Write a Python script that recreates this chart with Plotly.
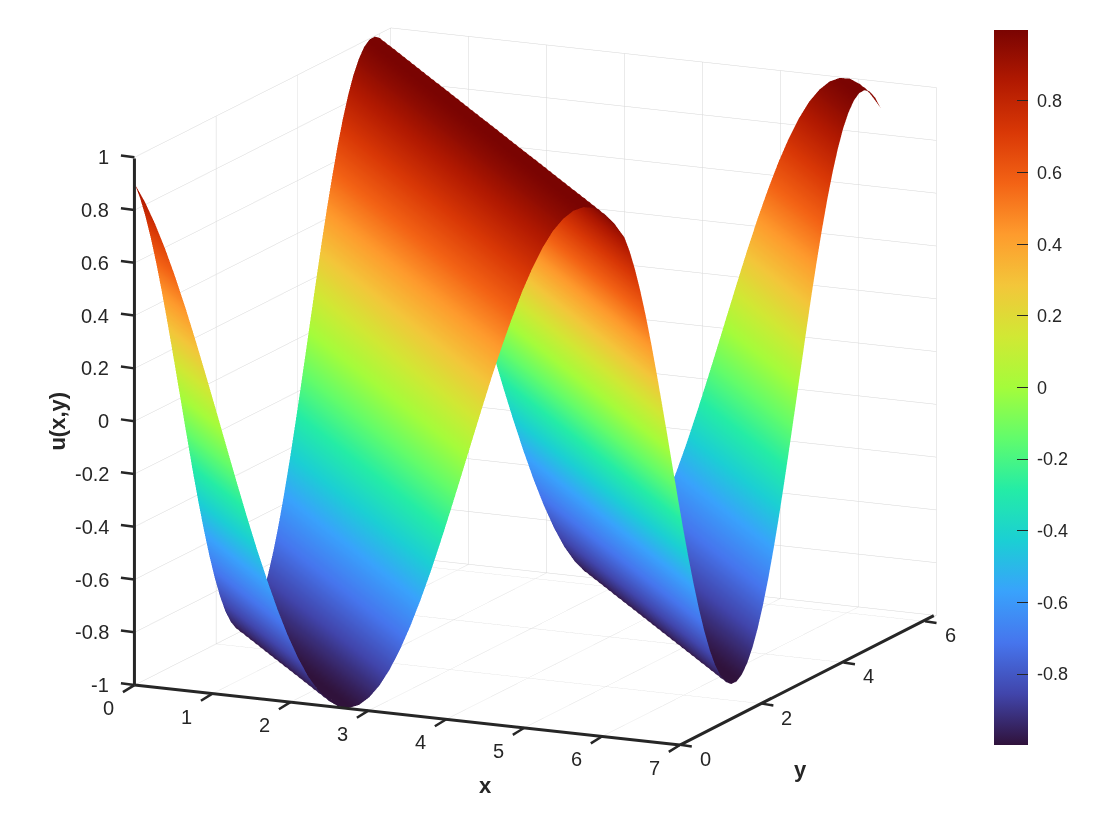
import plotly.graph_objects as go

x_vals = [0, 0.131, 0.262, 0.393, 0.524, 0.654, 0.785, 0.916, 1.047, 1.178, 1.309, 1.44, 1.571, 1.702, 1.833, 1.963, 2.094,
          2.225, 2.356, 2.487, 2.618, 2.749, 2.88, 3.011, 3.142, 3.272, 3.403, 3.534, 3.665, 3.796, 3.927, 4.058, 4.189,
          4.32, 4.451, 4.581, 4.712, 4.843, 4.974, 5.105, 5.236, 5.367, 5.498, 5.629, 5.76, 5.89, 6.021, 6.152, 6.283]
y_vals = list(x_vals)
# u read along the constant-(x+y) ridges of the surface, one entry per grid diagonal
ridge_u = [0.900, 0.836, 0.757, 0.665, 0.562, 0.450, 0.329, 0.203, 0.074, -0.057, -0.187, -0.314, -0.435, -0.548, -0.653, -0.746,
           -0.827, -0.894, -0.944, -0.979, -0.997, -0.998, -0.982, -0.949,
           -0.900, -0.836, -0.757, -0.665, -0.562, -0.450, -0.329, -0.203, -0.074, 0.057, 0.187, 0.314, 0.435, 0.548, 0.653, 0.746,
           0.827, 0.894, 0.944, 0.979, 0.997, 0.998, 0.982, 0.949,
           0.900, 0.836, 0.757, 0.665, 0.562, 0.450, 0.329, 0.203, 0.074, -0.057, -0.187, -0.314, -0.435, -0.548, -0.653, -0.746,
           -0.827, -0.894, -0.944, -0.979, -0.997, -0.998, -0.982, -0.949,
           -0.900, -0.836, -0.757, -0.665, -0.562, -0.450, -0.329, -0.203, -0.074, 0.057, 0.187, 0.314, 0.435, 0.548, 0.653, 0.746,
           0.827, 0.894, 0.944, 0.979, 0.997, 0.998, 0.982, 0.949, 0.900]
z_grid = [[ridge_u[i + j] for i in range(len(x_vals))] for j in range(len(y_vals))]

x_ticks = [0, 1, 2, 3, 4, 5, 6, 7]
y_ticks = [0, 2, 4, 6]
z_ticks = [-1, -0.8, -0.6, -0.4, -0.2, 0, 0.2, 0.4, 0.6, 0.8, 1]
z_labels = ["-1", "-0.8", "-0.6", "-0.4", "-0.2", "0", "0.2", "0.4", "0.6", "0.8", "1"]
cb_ticks = [-0.8, -0.6, -0.4, -0.2, 0, 0.2, 0.4, 0.6, 0.8]
cb_labels = ["\u00a0-0.8", "\u00a0-0.6", "\u00a0-0.4", "\u00a0-0.2", "\u00a00", "\u00a00.2", "\u00a00.4", "\u00a00.6", "\u00a00.8"]
x_max, y_max = 7, 6.283

INK = "#262626"
FONT = "Liberation Sans"

def axis(rng, tv):
    return dict(range=rng, tickmode="array", tickvals=tv, showticklabels=False, title=dict(text=""),
                showline=False, ticks="",
                showgrid=True, gridcolor="#d6d6d6", gridwidth=1,
                showbackground=False, zeroline=False, showspikes=False)

def label(x, y, z, text, dx=0, dy=0, size=20, **kw):
    return dict(x=x, y=y, z=z, text=text, showarrow=False, xshift=dx, yshift=dy,
                font=dict(family=FONT, size=size, color=INK), **kw)

def stroke(x, y, z, ax, ay, width):
    return dict(x=x, y=y, z=z, text="", showarrow=True, arrowhead=0, arrowwidth=width, arrowcolor=INK,
                ax=ax, ay=ay, standoff=0, startstandoff=0)

notes = []
for v in x_ticks:
    notes.append(stroke(v, 0, -1, -13, 8, 2.5))
    notes.append(label(v, 0, -1, str(v), -26, -23))
for v in y_ticks:
    notes.append(stroke(x_max, v, -1, 13, 2, 2.5))
    notes.append(label(x_max, v, -1, str(v), 25, -14))
for v, t in zip(z_ticks, z_labels):
    notes.append(stroke(0, 0, v, -15, -2, 2.5))
    notes.append(label(0, 0, v, t, -23, 0, xanchor="right"))
notes.append(stroke(0, 0, -1, 547, 60, 3))
notes.append(stroke(x_max, 0, -1, 255, -130, 3))
notes.append(stroke(0, 0, -1, 0, -528, 3))
notes.append(label(3.5, 0, -1, "<b>x</b>", 78, -71, size=22))
notes.append(label(x_max, 3.14, -1, "<b>y</b>", -8, -89, size=22))
notes.append(label(0, 0, 0, "<b>u(x,y)</b>", -77, 0, size=22, textangle=-90))

fig = go.Figure()
fig.add_trace(go.Surface(
    x=x_vals, y=y_vals, z=z_grid, colorscale="Turbo", showscale=True,
    lighting=dict(ambient=1, diffuse=0, specular=0, fresnel=0, roughness=1),
    colorbar=dict(xref="container", yref="container", x=986 / 1120, xanchor="left", y=1 - 379.5 / 840, yanchor="middle",
                  lenmode="pixels", len=715, thickness=34, xpad=0, ypad=0,
                  tickmode="array", tickvals=cb_ticks, ticktext=cb_labels,
                  tickfont=dict(family=FONT, size=18, color=INK), ticks="inside", ticklen=11, tickwidth=1, tickcolor=INK,
                  outlinewidth=0),
))
fig.update_layout(
    width=1120, height=840, margin=dict(l=0, r=0, t=0, b=0), paper_bgcolor="white",
    font=dict(family=FONT, color=INK),
    scene=dict(
        domain=dict(x=[0.085, 0.985], y=[0, 1]),
        xaxis=axis([0, x_max], x_ticks),
        yaxis=axis([0, y_max], y_ticks),
        zaxis=axis([-1, 1], z_ticks),
        aspectmode="manual", aspectratio=dict(x=1.433, y=1.445, z=1.293),
        camera=dict(projection=dict(type="orthographic"),
                    eye=dict(x=0.569, y=-1.222, z=0.224), center=dict(x=0, y=0, z=-0.102), up=dict(x=0, y=0, z=1)),
        annotations=notes,
    ),
)
fig.write_html("out.html")
